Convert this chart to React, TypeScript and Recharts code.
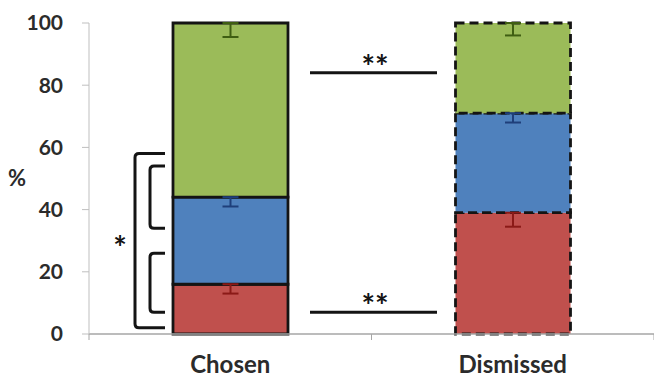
import { BarChart, Bar, Cell, XAxis, YAxis, ErrorBar } from "recharts";

const CATEGORIAS = ["Chosen", "Dismissed"];
const ROJO = [16, 39];
const AZUL = [28, 32];
const VERDE = [56, 29];
const ERR_ROJO = [3, 4.5];
const ERR_AZUL = [3, 3];
const ERR_VERDE = [4.5, 4];
const TICKS_Y = [0, 20, 40, 60, 80, 100];

// brackets on the left (y in %), and the "**" lines (y in %)
const LLAVES = [
  { desde: 2, hasta: 58, x: 135 },
  { desde: 34, hasta: 54, x: 150 },
  { desde: 7, hasta: 26, x: 150 },
];
const LINEAS_SIG = [84, 7];

const W = 654;
const H = 383;
const TOP = 23;
const BOTTOM_AXIS = 49;
const LEFT_AXIS = 89;

const FUENTE = "Lato, 'Open Sans', sans-serif";
const NEGRO = "#141414";
const GRIS_EJE = "#a6a6a6";

const data = CATEGORIAS.map((c, i) => ({
  cat: c,
  rojo: ROJO[i],
  azul: AZUL[i],
  verde: VERDE[i],
  eRojo: [ERR_ROJO[i], 0],
  eAzul: [ERR_AZUL[i], 0],
  eVerde: [ERR_VERDE[i], 0],
}));

const altoPlot = H - TOP - BOTTOM_AXIS;
const yPix = (v: number) => TOP + ((100 - v) / 100) * altoPlot;
const ejeY = H - BOTTOM_AXIS;
const banda = (W - LEFT_AXIS) / CATEGORIAS.length;

const SERIES = [
  { key: "rojo", err: "eRojo", fill: "#C0504D", errColor: "#8B1A17" },
  { key: "azul", err: "eAzul", fill: "#4F81BD", errColor: "#1F3F7A" },
  { key: "verde", err: "eVerde", fill: "#9BBB59", errColor: "#3F5E12" },
];

// category label plus Excel-style tick marks on the band edges
function TickCategoria(props: any) {
  const { x, payload, index } = props;
  return (
    <g>
      {index === 0 && <line x1={x - banda / 2} x2={x - banda / 2} y1={ejeY} y2={ejeY + 6} stroke={GRIS_EJE} />}
      <line x1={x + banda / 2} x2={x + banda / 2} y1={ejeY} y2={ejeY + 6} stroke={GRIS_EJE} />
      <text x={x} y={ejeY + 39} textAnchor="middle" fontFamily={FUENTE} fontWeight={700} fontSize={24} fill="#2b2b2b">
        {payload.value}
      </text>
    </g>
  );
}

function Anotaciones() {
  return (
    <svg width={W} height={H} style={{ position: "absolute", left: 0, top: 0, pointerEvents: "none" }}>
      {LLAVES.map((l, i) => {
        const y1 = yPix(l.hasta);
        const y2 = yPix(l.desde);
        const xr = 165;
        const r = 4;
        return (
          <path
            key={i}
            d={`M ${xr} ${y1} L ${l.x + r} ${y1} Q ${l.x} ${y1} ${l.x} ${y1 + r} L ${l.x} ${y2 - r} Q ${l.x} ${y2} ${l.x + r} ${y2} L ${xr} ${y2}`}
            fill="none"
            stroke={NEGRO}
            strokeWidth={3}
          />
        );
      })}
      <text x={120} y={yPix(30) + 19} textAnchor="middle" fontFamily={FUENTE} fontWeight={700} fontSize={32} fill={NEGRO}>
        *
      </text>
      {LINEAS_SIG.map((v, i) => (
        <g key={i}>
          <line x1={310} x2={437} y1={yPix(v)} y2={yPix(v)} stroke={NEGRO} strokeWidth={3} />
          <text x={375} y={yPix(v) + 6} textAnchor="middle" fontFamily={FUENTE} fontWeight={700} fontSize={32} fill={NEGRO}>
            **
          </text>
        </g>
      ))}
    </svg>
  );
}

export default function App() {
  return (
    <div style={{ position: "absolute", left: 0, top: 0, width: W, height: H, background: "#fff" }}>
      <BarChart width={W} height={H} data={data} margin={{ top: TOP, right: 0, left: 0, bottom: 0 }} barCategoryGap={0}>
        <XAxis
          dataKey="cat"
          height={BOTTOM_AXIS}
          axisLine={{ stroke: GRIS_EJE, strokeWidth: 1.5 }}
          tickLine={false}
          tick={<TickCategoria />}
        />
        <YAxis
          width={LEFT_AXIS}
          domain={[0, 100]}
          ticks={TICKS_Y}
          axisLine={{ stroke: "#bfbfbf" }}
          tickLine={{ stroke: "#bfbfbf" }}
          tickSize={7}
          tickMargin={19}
          tick={{ fontFamily: FUENTE, fontWeight: 700, fontSize: 21, fill: "#2b2b2b" }}
          label={{
            value: "%",
            position: "insideLeft",
            offset: 8,
            style: { fontFamily: FUENTE, fontWeight: 700, fontSize: 22, fill: "#2b2b2b" },
          }}
        />
        {SERIES.map((s) => (
          <Bar key={s.key} dataKey={s.key} stackId="a" fill={s.fill} barSize={115} isAnimationActive={false}>
            {data.map((_, i) => (
              <Cell
                key={i}
                fill={s.fill}
                stroke={NEGRO}
                strokeWidth={2.8}
                strokeDasharray={i === 0 ? undefined : "9 5"}
              />
            ))}
            <ErrorBar dataKey={s.err} width={8} stroke={s.errColor} strokeWidth={2} direction="y" />
          </Bar>
        ))}
      </BarChart>
      <Anotaciones />
    </div>
  );
}
